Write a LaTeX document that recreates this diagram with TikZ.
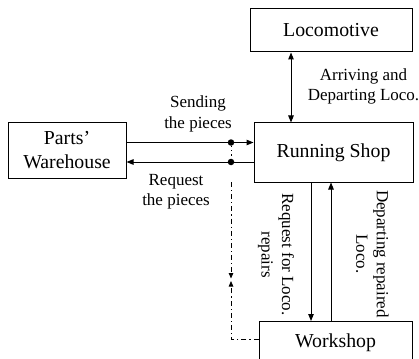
\documentclass[tikz,border=0pt]{standalone}
\usepackage{fontspec}
\setmainfont{Liberation Serif}
\usetikzlibrary{arrows.meta}
\begin{document}
\begin{tikzpicture}[x=1pt,y=-1pt,
  box/.style={draw,line width=1pt,inner sep=0pt,align=center,
    font=\fontsize{19.8}{24}\selectfont},
  lbl/.style={align=center,inner sep=0pt,font=\fontsize{17}{20.5}\selectfont},
  link/.style={line width=1pt},
  tip/.style={-{Triangle[length=7pt,width=5.5pt]}},
  dtip/.style={-{Triangle[length=5.5pt,width=4.5pt]}},
  dashdot/.style={line width=0.8pt,dash pattern=on 5pt off 3pt on 1.2pt off 3pt},
  junction/.style={circle,fill,inner sep=0pt,minimum size=6.5pt}]
\useasboundingbox (0,0) rectangle (419,358);

% blocks
\node[box,minimum width=162pt,minimum height=43pt] (loco) at (331,30.5) {Locomotive};
\node[box,minimum width=159pt,minimum height=59pt] (run) at (333.5,152.5) {Running Shop};
\node[box,minimum width=118pt,minimum height=55pt] (ware) at (67,150.5) {Parts'\\Warehouse};
\node[box,minimum width=153pt,text height=26pt,text depth=20pt,anchor=north]
  (work) at (335.5,321) {Workshop};

% reference lines for the connectors
\coordinate (xL) at (291,0);
\coordinate (xD) at (311,0);
\coordinate (xU) at (331,0);
\coordinate (xT) at (231,0);
\coordinate (yS) at (0,142.5);
\coordinate (yR) at (0,162);
\coordinate (yB) at (0,339);

% locomotive <-> running shop
\draw[link,{Triangle[length=7pt,width=5.5pt]}-{Triangle[length=7pt,width=5.5pt]}]
  (loco.south -| xL) -- (run.north -| xL);

% pieces exchanged with the warehouse
\draw[link,tip] (ware.east |- yS) -- (run.west |- yS);
\draw[link,tip] (run.west |- yR) -- (ware.east |- yR);
\node[junction] (j1) at (xT |- yS) {};
\node[junction] (j2) at (xT |- yR) {};
\draw[line width=0.8pt,dash pattern=on 1.2pt off 3pt] (j1) -- (j2);

% repair traffic between running shop and workshop
\draw[link,tip] (run.south -| xD) -- (work.north -| xD);
\draw[link,tip] (work.north -| xU) -- (run.south -| xU);

% dash-dot link from the junction down to the workshop
\coordinate (dtop) at (231,182);
\coordinate (dmid1) at (231,278.5);
\coordinate (dmid2) at (231,281);
\coordinate (corner) at (xT |- yB);
\draw[dashdot,dtip] (dtop) -- (dmid1);
\draw[dashdot,dtip] (work.west |- yB) -- (corner) -- (dmid2);

% labels
\node[lbl] (lsend) at (198,114) {Sending\\the pieces};
\node[lbl] (lreq) at (176,191.5) {Request\\the pieces};
\node[lbl] (larr) at (363.5,86.5) {Arriving and\\Departing Loco.};
\node[lbl,rotate=-90] (lrep) at (276,254.5) {Request for Loco.\\repairs};
\node[lbl,rotate=-90] (ldep) at (372.5,254) {Departing repaired\\Loco.};
\end{tikzpicture}
\end{document}
